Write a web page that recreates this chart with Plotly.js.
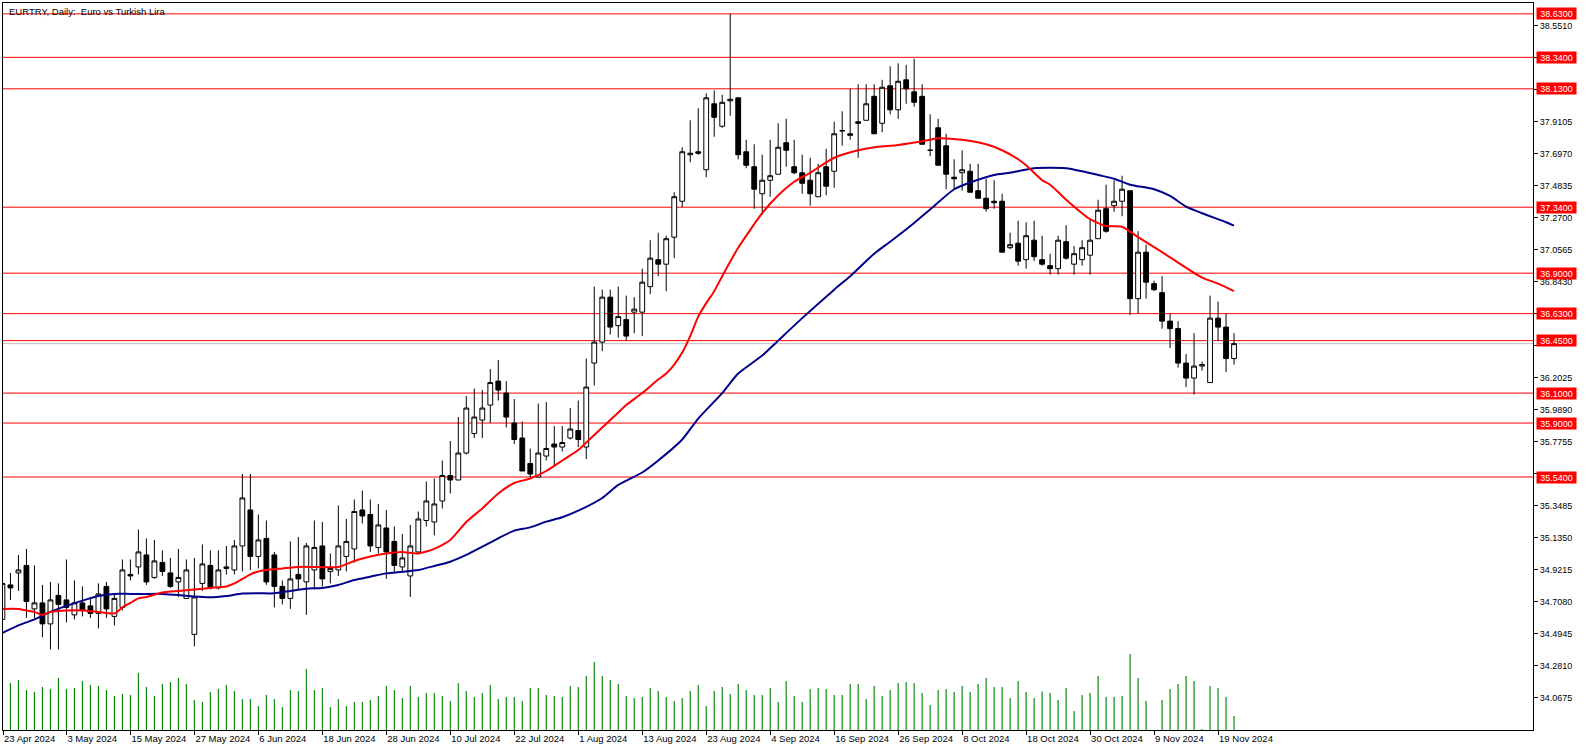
<!DOCTYPE html>
<html><head><meta charset="utf-8">
<script src="https://cdn.plot.ly/plotly-3.0.1.min.js"></script>
<style>html,body{margin:0;padding:0;background:#fff;overflow:hidden}#chart{width:1586px;height:751px}</style>
</head><body><div id="chart"></div><script>
// Daily EURTRY candles, 23 Apr 2024 .. 21 Nov 2024 (bar index order)
const openP = [34.59,34.82,34.90,34.95,34.66,34.70,34.56,34.75,34.72,34.62,
34.70,34.68,34.63,34.81,34.61,34.67,34.89,34.94,35.02,34.87,
34.97,34.90,34.84,34.73,34.49,34.83,34.95,34.80,34.93,34.92,
35.08,35.32,35.01,35.13,35.02,34.81,34.73,34.89,34.84,34.92,
35.08,34.91,34.92,35.01,35.06,35.32,35.29,35.07,35.20,35.11,
34.94,34.88,35.04,35.25,35.24,35.38,35.55,35.52,35.70,35.83,
35.92,36.02,36.18,36.10,35.90,35.80,35.63,35.54,35.68,35.76,
35.74,35.80,35.85,35.74,36.30,36.44,36.74,36.55,36.59,36.64,
36.64,36.81,36.99,36.96,37.14,37.38,37.69,37.71,37.59,38.03,
37.88,38.05,38.07,37.71,37.61,37.43,37.52,37.56,37.77,37.61,
37.57,37.52,37.41,37.61,37.58,37.85,37.83,37.91,37.92,38.08,
37.90,38.15,37.99,38.19,38.11,38.08,37.72,37.87,37.75,37.54,
37.57,37.58,37.45,37.40,37.38,37.38,37.07,37.10,36.99,37.12,
36.99,36.95,36.93,37.11,36.96,36.99,37.02,37.13,37.33,37.35,
37.38,37.45,36.73,37.04,36.83,36.77,36.58,36.53,36.30,36.20,
36.28,36.17,36.60,36.54,36.33];
const highP = [34.84,34.90,35.02,35.06,34.95,34.82,34.84,34.83,34.99,34.85,
34.81,34.74,34.83,34.84,34.76,34.99,34.99,35.19,35.13,35.12,
35.05,35.00,35.06,34.99,35.00,35.09,35.05,35.05,35.08,35.12,
35.56,35.56,35.29,35.25,35.04,34.85,35.11,35.14,35.10,35.25,
35.24,35.03,35.35,35.26,35.39,35.45,35.39,35.36,35.32,35.21,
35.16,35.22,35.31,35.51,35.53,35.65,35.78,35.94,36.08,36.13,
36.12,36.26,36.32,36.18,36.06,35.91,35.73,36.03,36.04,35.88,
35.88,36.00,36.05,36.33,36.81,36.79,36.79,36.81,36.75,36.74,
36.93,37.12,37.17,37.15,37.44,37.74,37.92,38.00,38.10,38.12,
38.09,38.63,38.07,37.79,37.76,37.69,37.79,37.90,37.93,37.79,
37.69,37.67,37.63,37.73,37.91,37.98,38.13,38.16,38.16,38.16,
38.19,38.28,38.30,38.29,38.33,38.16,37.96,37.93,37.83,37.66,
37.72,37.63,37.63,37.53,37.52,37.43,37.17,37.25,37.24,37.25,
37.15,37.03,37.15,37.22,37.08,37.12,37.26,37.39,37.49,37.52,
37.55,37.45,37.18,37.09,36.85,36.88,36.63,36.58,36.36,36.50,
36.31,36.75,36.71,36.63,36.50];
const lowP = [34.57,34.72,34.78,34.60,34.60,34.47,34.39,34.39,34.57,34.59,
34.61,34.60,34.53,34.60,34.55,34.65,34.85,34.89,34.82,34.86,
34.88,34.80,34.74,34.73,34.41,34.78,34.79,34.79,34.89,34.89,
34.91,34.92,34.93,34.82,34.67,34.69,34.66,34.79,34.62,34.79,
34.81,34.83,34.88,34.91,34.97,35.23,35.04,35.03,34.86,34.90,
34.90,34.74,35.03,35.21,35.15,35.33,35.43,35.52,35.69,35.80,
35.80,35.90,36.05,35.87,35.76,35.58,35.54,35.54,35.65,35.61,
35.71,35.79,35.74,35.66,36.15,36.38,36.49,36.47,36.45,36.50,
36.48,36.76,36.88,36.78,37.00,37.34,37.64,37.69,37.54,37.81,
37.87,37.95,37.66,37.60,37.33,37.29,37.41,37.56,37.61,37.56,
37.43,37.35,37.41,37.42,37.47,37.75,37.79,37.67,37.92,37.83,
37.84,37.96,37.93,38.03,38.01,37.76,37.68,37.62,37.46,37.46,
37.45,37.44,37.40,37.31,37.33,37.04,37.06,36.95,36.93,36.98,
36.95,36.89,36.89,36.99,36.89,36.95,36.89,37.13,37.17,37.31,
37.28,36.62,36.63,36.73,36.78,36.53,36.40,36.27,36.14,36.09,
36.25,36.17,36.45,36.24,36.29];
const closeP = [34.83,34.80,34.92,34.71,34.70,34.56,34.72,34.69,34.67,34.70,
34.65,34.63,34.76,34.66,34.73,34.92,34.88,35.04,34.84,34.98,
34.91,34.81,34.87,34.92,34.74,34.96,34.80,34.92,34.94,35.08,
35.40,35.01,35.12,34.84,34.81,34.73,34.86,34.86,35.08,35.07,
34.86,34.93,35.08,35.11,35.31,35.28,35.08,35.22,35.04,34.95,
35.00,35.08,35.26,35.38,35.36,35.55,35.52,35.70,36.00,35.94,
36.00,36.17,36.12,35.94,35.79,35.58,35.56,35.70,35.73,35.74,
35.77,35.86,35.79,36.14,36.44,36.74,36.54,36.61,36.48,36.66,
36.84,37.00,36.96,37.13,37.41,37.71,37.70,37.70,38.07,37.94,
38.04,38.06,37.69,37.62,37.46,37.52,37.55,37.74,37.72,37.57,
37.50,37.43,37.57,37.48,37.83,37.85,37.82,37.90,38.03,37.83,
38.14,37.99,38.18,38.13,38.04,37.76,37.72,37.62,37.56,37.53,
37.59,37.44,37.40,37.33,37.37,37.04,37.09,36.98,37.15,37.01,
36.96,36.93,37.12,37.00,37.03,37.07,37.12,37.32,37.18,37.38,
37.46,36.73,37.04,36.84,36.79,36.58,36.53,36.30,36.20,36.28,
36.29,36.60,36.54,36.33,36.43];
const volume = [4000,4700,5000,4000,3800,4300,4100,5200,4100,4200,
4900,4500,4400,4000,3400,3600,3500,5700,4300,3400,
4600,4800,5200,4600,3000,2800,3800,4100,4500,3900,
3100,3100,2400,3500,3100,2300,4000,3900,6100,4000,
4200,2300,3100,2400,2800,2800,3000,3400,4400,4000,
3200,4400,3300,3700,3700,3400,2900,4700,3900,3300,
3700,4500,3100,3300,3300,2900,4200,4200,3500,3400,
3300,4400,4300,5400,6800,5400,5000,4600,3400,3200,
3300,4200,3900,3300,2900,3200,3900,4500,2400,3900,
4300,3600,4600,4000,3500,3500,4200,2800,4900,3400,
2800,4100,4200,4100,3500,3500,4600,4600,3100,4400,
3400,4000,4700,4800,4700,3700,2500,4000,4100,3800,
4400,3800,4600,5200,4300,4300,3200,4900,3800,3200,
3850,3700,3000,4200,1900,3500,3700,5400,3300,3300,
3400,7600,5200,2900,0,3000,4100,4600,5400,4900,
100,4400,4200,3300,1400];
// moving averages (bar index -> value)
const maFastIdx = [0,2,3,4,5,6,8,10,12,14,15,16,17,18,20,22,24,26,28,29,30,31,32,33,35,37,39,42,44,46,48,50,52,54,56,58,60,62,64,66,68,70,72,73,75,76,77,78,80,82,83,84,85,86,87,88,89,90,92,95,97,99,101,104,107,109,112,115,117,120,123,125,127,128,130,131,133,136,138,140,142,145,147,150,152,154];
const maFastVal = [34.66,34.66,34.65,34.64,34.62,34.64,34.65,34.65,34.64,34.63,34.67,34.70,34.73,34.74,34.77,34.78,34.79,34.80,34.81,34.83,34.86,34.89,34.91,34.92,34.93,34.94,34.94,34.94,34.98,35.01,35.03,35.04,35.03,35.06,35.12,35.24,35.33,35.43,35.50,35.53,35.58,35.65,35.72,35.77,35.87,35.92,35.97,36.02,36.10,36.19,36.23,36.29,36.37,36.48,36.61,36.70,36.78,36.88,37.07,37.30,37.42,37.51,37.57,37.67,37.72,37.74,37.755,37.78,37.80,37.79,37.76,37.72,37.66,37.62,37.52,37.49,37.39,37.26,37.215,37.21,37.14,37.04,36.97,36.87,36.83,36.78];
const maSlowIdx = [0,2,4,6,8,10,12,14,16,18,20,22,24,26,28,30,32,34,36,38,40,42,44,46,48,50,52,54,56,58,60,62,64,66,68,70,72,75,77,80,82,85,87,90,92,95,97,100,104,106,109,111,114,116,119,121,124,126,129,133,135,137,139,141,144,146,148,150,153,154];
const maSlowVal = [34.50,34.55,34.59,34.64,34.68,34.715,34.746,34.76,34.76,34.76,34.76,34.753,34.742,34.737,34.746,34.762,34.764,34.764,34.78,34.795,34.80,34.82,34.853,34.875,34.897,34.908,34.92,34.946,34.975,35.02,35.075,35.131,35.182,35.204,35.242,35.271,35.315,35.40,35.487,35.57,35.65,35.79,35.93,36.10,36.23,36.35,36.45,36.60,36.79,36.88,37.03,37.11,37.235,37.325,37.46,37.505,37.555,37.57,37.60,37.60,37.58,37.555,37.53,37.49,37.46,37.415,37.344,37.30,37.24,37.217];
const dateTickLabels = ['23 Apr 2024','3 May 2024','15 May 2024','27 May 2024','6 Jun 2024','18 Jun 2024','28 Jun 2024','10 Jul 2024','22 Jul 2024','1 Aug 2024','13 Aug 2024','23 Aug 2024','4 Sep 2024','16 Sep 2024','26 Sep 2024','8 Oct 2024','18 Oct 2024','30 Oct 2024','9 Nov 2024','19 Nov 2024'];
const priceTicks = [38.5510,38.3375,38.1240,37.9105,37.6970,37.4835,37.2700,37.0565,36.8430,36.6295,36.4160,36.2025,35.9890,35.7755,35.5620,35.3485,35.1350,34.9215,34.7080,34.4945,34.2810,34.0675];
const levels = [38.63,38.34,38.13,37.34,36.90,36.63,36.45,36.10,35.90,35.54];
const titleText = 'EURTRY, Daily:\u00a0 Euro vs Turkish Lira';

const barIdx = openP.map((_, i) => i);
const font = 'Liberation Sans, Arial, sans-serif';
const xStart = 0.07;

const traces = [
  {type:'bar', x:barIdx, y:volume, yaxis:'y2', width:0.14,
   marker:{color:'#008000', line:{width:0}}, hoverinfo:'skip'},
  {type:'candlestick', x:barIdx, open:openP, high:highP, low:lowP, close:closeP,
   increasing:{line:{color:'#000000', width:1}, fillcolor:'#FFFFFF'},
   decreasing:{line:{color:'#000000', width:1}, fillcolor:'#000000'},
   whiskerwidth:0, hoverinfo:'skip'},
  {type:'scatter', mode:'lines', x:maSlowIdx, y:maSlowVal,
   line:{color:'#00008B', width:2, shape:'spline', smoothing:0.6}, hoverinfo:'skip'},
  {type:'scatter', mode:'lines', x:maFastIdx, y:maFastVal,
   line:{color:'#FF0000', width:2, shape:'spline', smoothing:0.6}, hoverinfo:'skip'}
];

const shapes = levels.map(v => ({type:'line', xref:'paper', x0:0, x1:1, yref:'y', y0:v, y1:v,
  line:{color:'#FF0000', width:1}, layer:'below'}));
shapes.push({type:'line', xref:'paper', x0:0, x1:1, yref:'y', y0:closeP[closeP.length-1], y1:closeP[closeP.length-1],
  line:{color:'#C0C0C0', width:1}, layer:'below'});

const annotations = levels.map(v => ({xref:'paper', x:1, xanchor:'left', xshift:3,
  yref:'y', y:v, yanchor:'middle', text:v.toFixed(4), showarrow:false,
  bgcolor:'#FF0000', font:{family:font, size:9, color:'#FFFFFF'},
  width:37, height:9, borderpad:1, align:'center'}));
annotations.push({xref:'paper', x:0, xanchor:'left', xshift:4, yref:'paper', y:1, yanchor:'top', yshift:-1,
  text:titleText, showarrow:false, font:{family:font, size:9.5, color:'#000000'}});

// tick labels that sit under a level label are hidden by it in the reference
const coveredTick = v => levels.some(l => Math.abs(l - v) < 0.045);

const layout = {
  width:1586, height:751,
  margin:{l:3, r:53, t:3, b:21, pad:0},
  paper_bgcolor:'#FFFFFF', plot_bgcolor:'#FFFFFF',
  showlegend:false, dragmode:false, hovermode:false,
  boxgap:0.4, boxgroupgap:0,
  xaxis:{range:[xStart, 191.38], tickvals:dateTickLabels.map((_, k) => Math.max(k*8, xStart + 0.01)), ticktext:dateTickLabels,
    ticks:'outside', ticklen:4, tickcolor:'#000', tickwidth:1,
    showline:true, mirror:true, linecolor:'#000', linewidth:1,
    showgrid:false, zeroline:false, rangeslider:{visible:false},
    ticklabelposition:'outside right',
    tickfont:{family:font, size:9.5, color:'#000'}, fixedrange:true},
  yaxis:{side:'right', range:[33.852, 38.7025], tickvals:priceTicks,
    ticktext:priceTicks.map(v => coveredTick(v) ? '' : v.toFixed(4)),
    ticks:'outside', ticklen:4, tickcolor:'#000', tickwidth:1,
    showline:true, mirror:true, linecolor:'#000', linewidth:1,
    showgrid:false, zeroline:false,
    tickfont:{family:font, size:9, color:'#000'}, fixedrange:true},
  yaxis2:{overlaying:'y', anchor:'x', range:[0, 72700], visible:false, fixedrange:true},
  shapes:shapes, annotations:annotations
};

Plotly.newPlot('chart', traces, layout, {staticPlot:true, displayModeBar:false});
</script></body></html>
